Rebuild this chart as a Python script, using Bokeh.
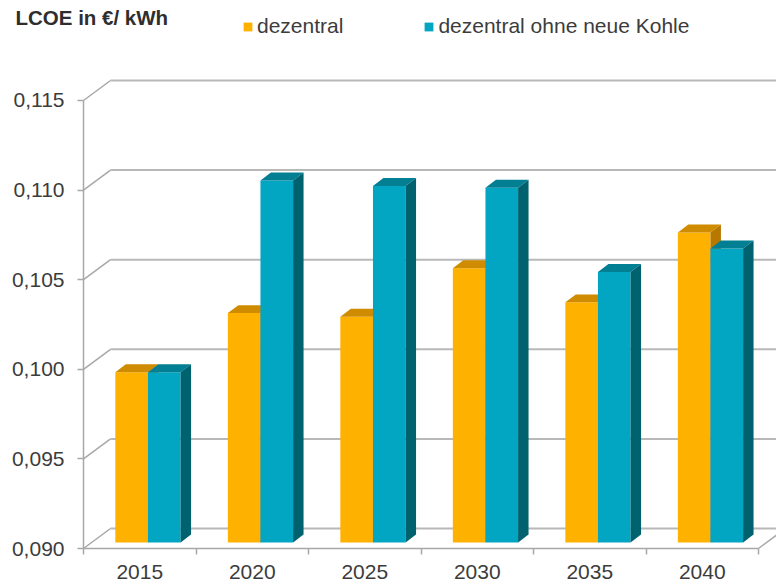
from bokeh.plotting import figure
from bokeh.models import FixedTicker, Range1d, Legend, LegendItem, Label
from bokeh.embed import file_html
from bokeh.resources import INLINE

years = ["2015", "2020", "2025", "2030", "2035", "2040"]
dezentral = [0.0995, 0.1028, 0.1026, 0.1053, 0.1034, 0.1073]
ohne_kohle = [0.0995, 0.1102, 0.1099, 0.1098, 0.1051, 0.1064]
y_ticks = [0.090, 0.095, 0.100, 0.105, 0.110, 0.115]
y_labels = ["0,090", "0,095", "0,100", "0,105", "0,110", "0,115"]
series_names = ["dezentral", "dezentral ohne neue Kohle"]

ORANGE = ("#FFB100", "#D08C00", "#B87800")
TEAL = ("#02A5C2", "#027F92", "#01626F")
GRID = "#B8B8B8"
AXIS = "#A8A8A8"
TEXT = "#3C3C3C"
FONT = "Liberation Sans"
FS = "21px"

# 3D projection, in data units
WALL_DX, WALL_DY = 0.24, 0.001116
BAR_DX, BAR_DY = 0.093, 0.000446
PLANE_DX, PLANE_DY = 0.073, 0.000335
BAR_W = 0.29
n = len(years)
X_START, X_END = -0.7378, 6.16
Y_START, Y_END = 0.088103, 0.12058

p = figure(width=776, height=582, output_backend="svg", toolbar_location=None,
           x_range=Range1d(X_START, X_END), y_range=Range1d(Y_START, Y_END),
           min_border_left=0, min_border_right=0, min_border_top=0, min_border_bottom=0,
           outline_line_color=None, background_fill_color="white")
p.grid.visible = False

# walls and floor
p.segment([0] * 6, y_ticks, [WALL_DX] * 6, [t + WALL_DY for t in y_ticks],
          line_color=AXIS, line_width=1.5)
p.segment([WALL_DX] * 6, [t + WALL_DY for t in y_ticks], [X_END] * 6,
          [t + WALL_DY for t in y_ticks], line_color=GRID, line_width=2)
p.segment([n], [0.09], [n + WALL_DX], [0.09 + WALL_DY], line_color=AXIS, line_width=1.5)


def bars(values, offset, colors):
    lefts = [i + 0.5 + PLANE_DX - BAR_W + offset * BAR_W for i in range(n)]
    rights = [l + BAR_W for l in lefts]
    tops = [v + PLANE_DY for v in values]
    base = 0.09 + PLANE_DY
    front = p.quad(left=lefts, right=rights, bottom=base, top=tops,
                   fill_color=colors[0], line_color=None)
    p.patches([[l, r, r + BAR_DX, l + BAR_DX] for l, r in zip(lefts, rights)],
              [[t, t, t + BAR_DY, t + BAR_DY] for t in tops],
              fill_color=colors[1], line_color=None)
    p.patches([[r, r + BAR_DX, r + BAR_DX, r] for r in rights],
              [[t, t + BAR_DY, base + BAR_DY, base] for t in tops],
              fill_color=colors[2], line_color=None)
    return front


r1 = bars(dezentral, 0, ORANGE)
r2 = bars(ohne_kohle, 1, TEAL)

# axes
ax = p.yaxis[0]
ax.fixed_location = 0
ax.ticker = FixedTicker(ticks=y_ticks)
ax.major_label_overrides = dict(zip(y_ticks, y_labels))
ax.bounds = (0.09, 0.115)
ax.axis_line_color = AXIS
ax.axis_line_width = 1.5
ax.major_tick_line_color = AXIS
ax.major_tick_line_width = 1.5
ax.major_tick_in = 0
ax.major_tick_out = 6
ax.minor_tick_line_color = None
ax.major_label_standoff = 13
ax.major_label_text_font = FONT
ax.major_label_text_font_size = FS
ax.major_label_text_color = TEXT

bx = p.xaxis[0]
bx.fixed_location = 0.09
bx.ticker = FixedTicker(ticks=[i + 0.5 for i in range(n)], minor_ticks=list(range(n + 1)))
bx.major_label_overrides = {i + 0.5: y for i, y in enumerate(years)}
bx.bounds = (0, n)
bx.axis_line_color = AXIS
bx.axis_line_width = 1.5
bx.major_tick_line_color = None
bx.minor_tick_line_color = AXIS
bx.minor_tick_line_width = 1.5
bx.minor_tick_in = 0
bx.minor_tick_out = 6
bx.major_label_standoff = 10
bx.major_label_text_font = FONT
bx.major_label_text_font_size = FS
bx.major_label_text_color = TEXT

# legend and heading
legend = Legend(items=[LegendItem(label=series_names[0], renderers=[r1]),
                       LegendItem(label=series_names[1], renderers=[r2])],
                orientation="horizontal", location=(242, 544), padding=0, margin=0,
                spacing=80, glyph_width=11, glyph_height=11, label_standoff=4,
                border_line_color=None, background_fill_alpha=0,
                label_text_font=FONT, label_text_font_size=FS, label_text_color=TEXT)
p.add_layout(legend, "center")

p.add_layout(Label(x=15, y=554, x_units="screen", y_units="screen", text="LCOE in €/ kWh",
                   text_font=FONT, text_font_size="20.5px", text_font_style="bold", text_color="#2E2E2E"))

open("out.html", "w").write(file_html(p, INLINE))
